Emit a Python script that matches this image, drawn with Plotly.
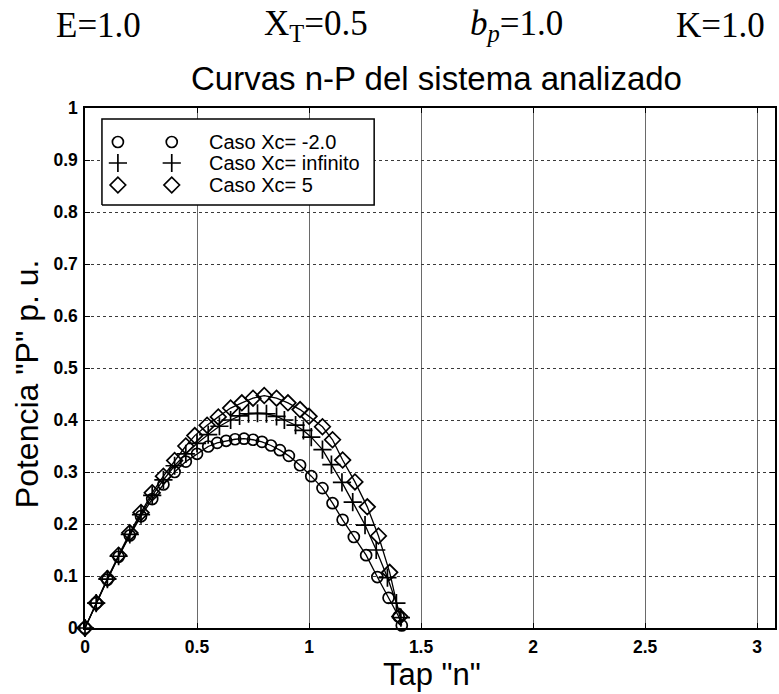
import plotly.graph_objects as go

# ---- data ----
n_circ = [0, 0.05, 0.10, 0.15, 0.20, 0.25, 0.30, 0.35, 0.40, 0.45, 0.50, 0.55, 0.59, 0.63,
          0.67, 0.71, 0.75, 0.79, 0.83, 0.87, 0.91, 0.96, 1.01, 1.06, 1.105, 1.15, 1.20,
          1.255, 1.305, 1.355, 1.40, 1.414]
p_circ = [0, 0.048, 0.093, 0.137, 0.178, 0.215, 0.248, 0.276, 0.300, 0.320, 0.335, 0.349,
          0.356, 0.360, 0.363, 0.364, 0.362, 0.358, 0.351, 0.342, 0.331, 0.313, 0.292,
          0.269, 0.240, 0.208, 0.175, 0.140, 0.098, 0.058, 0.022, 0.005]

n_plus = [0, 0.05, 0.10, 0.15, 0.20, 0.25, 0.30, 0.35, 0.40, 0.45, 0.50, 0.55, 0.60, 0.65,
          0.69, 0.73, 0.77, 0.81, 0.855, 0.89, 0.94, 0.975, 1.01, 1.06, 1.10, 1.147, 1.195,
          1.25, 1.30, 1.35, 1.39, 1.41]
p_plus = [0, 0.048, 0.094, 0.138, 0.180, 0.218, 0.255, 0.285, 0.312, 0.335, 0.355, 0.372,
          0.388, 0.400, 0.408, 0.412, 0.413, 0.412, 0.407, 0.400, 0.390, 0.380, 0.367,
          0.343, 0.314, 0.280, 0.242, 0.198, 0.150, 0.097, 0.048, 0.020]

n_diam = [0, 0.05, 0.10, 0.15, 0.20, 0.25, 0.30, 0.35, 0.40, 0.45, 0.49, 0.545, 0.595,
          0.65, 0.70, 0.75, 0.80, 0.855, 0.906, 0.96, 1.00, 1.06, 1.105, 1.15, 1.205,
          1.26, 1.31, 1.36, 1.405]
p_diam = [0, 0.048, 0.095, 0.140, 0.183, 0.222, 0.260, 0.292, 0.322, 0.350, 0.370, 0.390,
          0.406, 0.423, 0.433, 0.442, 0.447, 0.442, 0.433, 0.420, 0.407, 0.387, 0.362,
          0.323, 0.281, 0.233, 0.177, 0.107, 0.022]

series_names = ["Caso Xc= -2.0", "Caso Xc= infinito", "Caso Xc= 5"]
x_ticks = [0, 0.5, 1, 1.5, 2, 2.5, 3]
x_tick_labels = ["0", "0.5", "1", "1.5", "2", "2.5", "3"]
y_ticks = [0, 0.1, 0.2, 0.3, 0.4, 0.5, 0.6, 0.7, 0.8, 0.9, 1]
y_tick_labels = ["0", "0.1", "0.2", "0.3", "0.4", "0.5", "0.6", "0.7", "0.8", "0.9", "1"]
params = ["E=1.0", "X<sub>T</sub>=0.5", "<i>b<sub>p</sub></i>=1.0", "K=1.0"]

# ---- layout geometry (pixels) ----
W, H = 779, 694
L, R, T, B = 85, 777, 108, 628


def px(xp):
    return (xp - L) / (R - L)


def py(yp):
    return (B - yp) / (B - T)


SANS = "Liberation Sans, Arial, sans-serif"
SERIF = "Liberation Serif, Times New Roman, serif"

fig = go.Figure()

styles = [
    dict(symbol="circle-open", size=11),
    dict(symbol="cross-thin-open", size=13),
    dict(symbol="diamond-open", size=12),
]
data = [(n_circ, p_circ), (n_plus, p_plus), (n_diam, p_diam)]
for (xs, ys), st, name in zip(data, styles, series_names):
    fig.add_trace(go.Scatter(
        x=xs, y=ys, mode="lines+markers", name=name, showlegend=False,
        line=dict(color="black", width=1.3),
        marker=dict(symbol=st["symbol"], size=st["size"], color="black",
                    line=dict(color="black", width=1.7)),
        cliponaxis=False,
    ))

# ---- custom legend (MATLAB style, two markers per row) on overlay axes ----
box_x0, box_x1, box_y0, box_y1 = px(102), px(375), py(205), py(119)
fig.add_trace(go.Scatter(
    x=[box_x0, box_x1, box_x1, box_x0, box_x0],
    y=[box_y0, box_y0, box_y1, box_y1, box_y0],
    mode="lines", fill="toself", fillcolor="white",
    line=dict(color="black", width=1.5),
    xaxis="x2", yaxis="y2", showlegend=False, hoverinfo="skip",
))
row_y = [py(142), py(163), py(185)]
col_x = [px(118), px(172)]
for st, ry in zip(styles, row_y):
    fig.add_trace(go.Scatter(
        x=col_x, y=[ry, ry], mode="markers",
        marker=dict(symbol=st["symbol"], size=st["size"], color="black",
                    line=dict(color="black", width=1.7)),
        xaxis="x2", yaxis="y2", showlegend=False, hoverinfo="skip",
    ))

annotations = []
for name, ry in zip(series_names, row_y):
    annotations.append(dict(
        x=px(207), y=ry, xref="paper", yref="paper", text=name,
        showarrow=False, xanchor="left", yanchor="middle",
        font=dict(family=SANS, size=20, color="black"),
    ))

# parameter line
param_x = [99, 317, 518, 722]
for t, xc in zip(params, param_x):
    annotations.append(dict(
        x=px(xc), y=py(26), xref="paper", yref="paper", text=t,
        showarrow=False, xanchor="center", yanchor="middle",
        font=dict(family=SERIF, size=35, color="black"),
    ))

# title
annotations.append(dict(
    x=px(438), y=py(79), xref="paper", yref="paper",
    text="Curvas n-P del sistema analizado", showarrow=False,
    xanchor="center", yanchor="middle",
    font=dict(family=SANS, size=33, color="black"),
))
# axis titles
annotations.append(dict(
    x=px(433), y=py(674), xref="paper", yref="paper",
    text='Tap "n"', showarrow=False, xanchor="center", yanchor="middle",
    font=dict(family=SANS, size=31, color="black"),
))
annotations.append(dict(
    x=px(27), y=py(384), xref="paper", yref="paper",
    text='Potencia "P" p. u.', showarrow=False, textangle=-90,
    xanchor="center", yanchor="middle",
    font=dict(family=SANS, size=32, color="black"),
))

axis_common = dict(
    showline=True, linecolor="black", linewidth=1.5, mirror="ticks",
    ticks="inside", ticklen=5, tickwidth=1.2, tickcolor="black",
    showgrid=True, gridwidth=1,
    zeroline=False,
    tickfont=dict(family=SANS, size=17.5, color="black", weight="bold"),
)

fig.update_layout(
    width=W, height=H,
    margin=dict(l=L, r=W - R, t=T, b=H - B, pad=0),
    paper_bgcolor="white", plot_bgcolor="white",
    showlegend=False,
    xaxis=dict(range=[0, 3.08], tickvals=x_ticks, ticktext=x_tick_labels,
               ticklabelstandoff=2, gridcolor="#6a6a6a", griddash="solid",
               **axis_common),
    yaxis=dict(range=[0, 1], tickvals=y_ticks, ticktext=y_tick_labels,
               ticklabelstandoff=2, gridcolor="#3a3a3a", griddash="dot",
               **axis_common),
    xaxis2=dict(overlaying="x", range=[0, 1], visible=False, fixedrange=True),
    yaxis2=dict(overlaying="y", range=[0, 1], visible=False, fixedrange=True),
    annotations=annotations,
)

fig.write_html("out.html")
